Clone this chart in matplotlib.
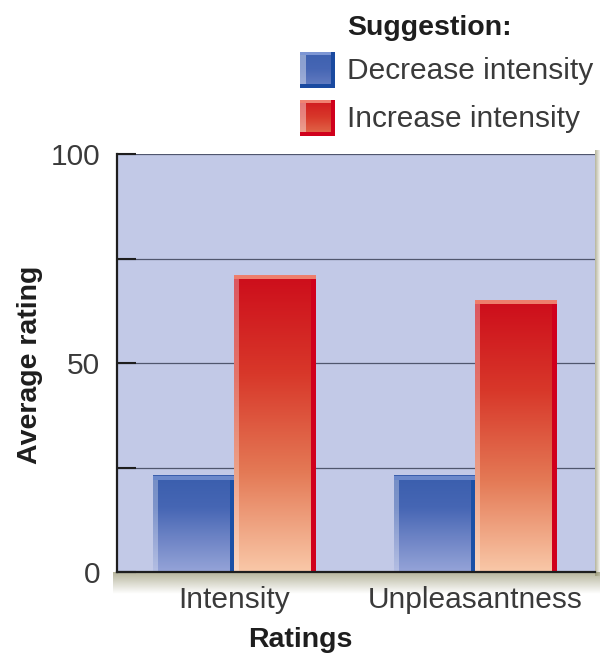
import numpy as np
import matplotlib
matplotlib.use('Agg')
import matplotlib.pyplot as plt
from matplotlib.colors import LinearSegmentedColormap, to_rgba
from matplotlib.patches import Rectangle

# data
categories = ['Intensity', 'Unpleasantness']
decrease = [23, 23]
increase = [71, 65]
series_names = ['Decrease intensity', 'Increase intensity']
y_ticks = [0, 25, 50, 75, 100]
y_tick_labels = ['0', '', '50', '', '100']

plt.rcParams['font.family'] = ['Liberation Sans', 'DejaVu Sans']

W, H = 600, 662
fig = plt.figure(figsize=(W / 100, H / 100), dpi=100)

# pixel frame of the plot area
ax_left, ax_right, ax_top, ax_bottom = 117, 595, 154, 572

# full-figure overlay in pixel coords (shadow, legend, labels)
bg = fig.add_axes([0, 0, 1, 1], zorder=0)
bg.set_xlim(0, W)
bg.set_ylim(H, 0)
bg.axis('off')
bg.patch.set_alpha(0)

ax = fig.add_axes([ax_left / W, 1 - ax_bottom / H, (ax_right - ax_left) / W,
                   (ax_bottom - ax_top) / H], zorder=1)
ax.set_facecolor('#c2c9e7')

blue_cmap = LinearSegmentedColormap.from_list('blue', ['#3a5ead', '#4666b4', '#6f85c6', '#95a4d8'])
red_cmap = LinearSegmentedColormap.from_list('red', ['#cd0d1b', '#d8382a', '#e47a56', '#f9c8a8'])


def shadow(x0, x1, y0, y1, vertical=True):
    n = 64
    img = np.zeros((n, n, 4))
    img[..., :3] = to_rgba('#8e8c66')[:3]
    fade = np.linspace(0.65, 0.0, n)
    if vertical:
        img[..., 3] = fade[:, None]
    else:
        img[..., 3] = fade[None, :]
    bg.imshow(img, extent=(x0, x1, y1, y0), aspect='auto', interpolation='bilinear', zorder=0)


shadow(ax_left - 4, ax_right + 5, ax_bottom, ax_bottom + 22)
shadow(ax_right, ax_right + 6, ax_top - 4, ax_bottom + 4, vertical=False)

x = np.arange(len(categories))
bw = 0.34
xlim = (-0.4876, 1.496)
px_x = (xlim[1] - xlim[0]) / (ax_right - ax_left)
px_y = 100 / (ax_bottom - ax_top)

bars_dec = ax.bar(x - bw / 2, decrease, bw, color='#4a6ab6', zorder=2)
bars_inc = ax.bar(x + bw / 2, increase, bw, color='#e05a40', zorder=2)


def style_bar(rect, cmap, edge_col, cap_col, edge_px):
    x0, w, h = rect.get_x(), rect.get_width(), rect.get_height()
    grad = np.linspace(0, 1, 256).reshape(-1, 1)
    ax.imshow(grad, extent=(x0, x0 + w, 0, h), cmap=cmap, aspect='auto',
              origin='upper', zorder=3, interpolation='bilinear')
    ax.add_patch(Rectangle((x0, 0), 5 * px_x, h, color='white', alpha=0.3, lw=0, zorder=4))
    ax.add_patch(Rectangle((x0 + w - edge_px * px_x, 0), edge_px * px_x, h,
                           color=edge_col, lw=0, zorder=4))
    ax.add_patch(Rectangle((x0, h - 4 * px_y), w, 4 * px_y, color=cap_col, lw=0, zorder=5))


for r in bars_dec:
    style_bar(r, blue_cmap, '#1a50a6', '#6b88cb', 4)
for r in bars_inc:
    style_bar(r, red_cmap, '#d0001c', '#ee7e6c', 5)

ax.set_xlim(*xlim)
ax.set_ylim(0, 100)
ax.set_xticks(x)
ax.set_xticklabels(categories)
ax.set_yticks(y_ticks)
ax.set_yticklabels(y_tick_labels)
ax.set_axisbelow(True)
ax.grid(axis='y', color='#50566e', lw=0.9, zorder=1)
for s in ['top', 'right']:
    ax.spines[s].set_visible(False)
for s in ['left', 'bottom']:
    ax.spines[s].set_color('#1e1e1e')
    ax.spines[s].set_linewidth(1.6)
    ax.spines[s].set_zorder(6)
ax.tick_params(axis='y', direction='in', length=14, width=1.5, color='#1e1e1e',
               pad=12, labelsize=21.5, labelcolor='#3a3a3a')
ax.tick_params(axis='x', length=0, pad=10, labelsize=21.5, labelcolor='#3a3a3a')

# axis titles
bg.text(30, 365, 'Average rating', rotation=90, ha='center', va='center',
        fontsize=20.5, fontweight='bold', color='#1e1e1e')
bg.text(300, 640, 'Ratings', ha='center', va='center',
        fontsize=20.5, fontweight='bold', color='#1e1e1e')

# legend
bg.text(347, 28, 'Suggestion:', ha='left', va='center', fontsize=20.5,
        fontweight='bold', color='#1e1e1e')
legend_items = [(series_names[0], blue_cmap, '#1a4aa0', '#7d96d4', 52),
                (series_names[1], red_cmap, '#d0001c', '#f08272', 100)]
for name, cmap, edge, cap, top in legend_items:
    grad = np.linspace(0.1, 0.6, 64).reshape(-1, 1)
    bg.imshow(grad, extent=(300, 335, top + 36, top), cmap=cmap, vmin=0, vmax=1,
              aspect='auto', interpolation='bilinear', zorder=2)
    bg.add_patch(Rectangle((300, top), 6, 36, color='white', alpha=0.4, lw=0, zorder=3))
    bg.add_patch(Rectangle((300, top), 35, 3, color=cap, lw=0, zorder=3))
    bg.add_patch(Rectangle((331, top), 4, 36, color=edge, lw=0, zorder=4))
    bg.add_patch(Rectangle((300, top + 32), 35, 4, color=edge, lw=0, zorder=4))
    bg.text(347, top + 19, name, ha='left', va='center', fontsize=21.5, color='#3a3a3a')

bg.set_xlim(0, W)
bg.set_ylim(H, 0)

fig.savefig('out.png', dpi=100)
